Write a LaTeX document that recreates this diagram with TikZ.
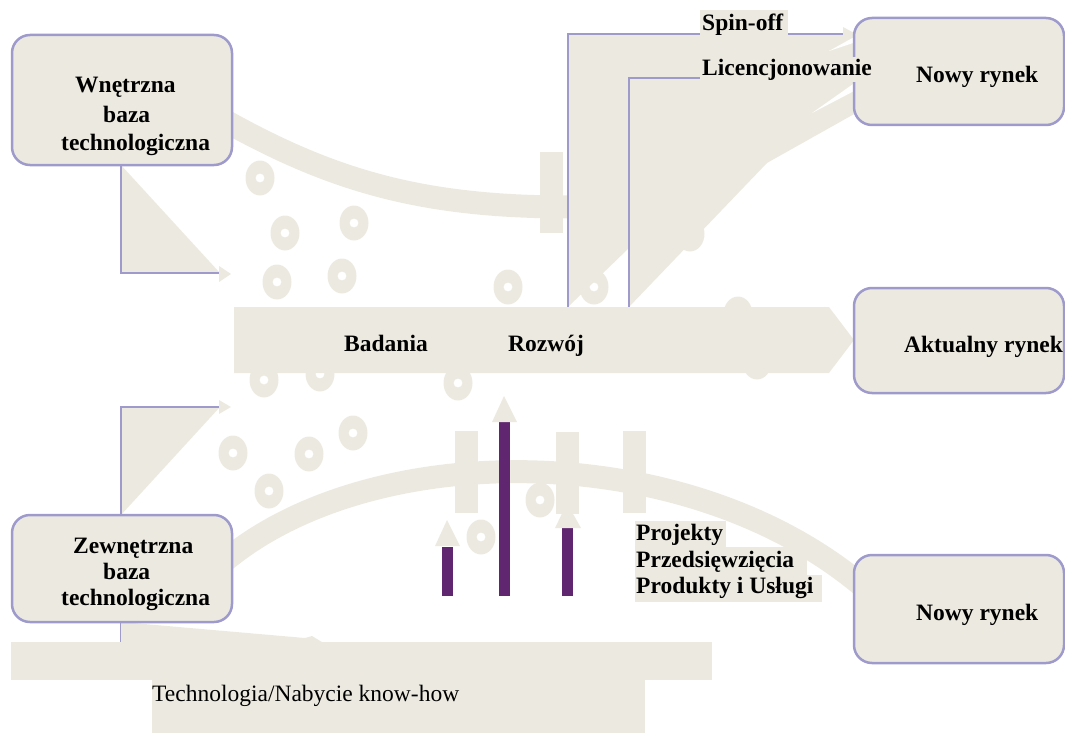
\documentclass[tikz,border=0pt]{standalone}
\usepackage{fontspec}
\setmainfont{Liberation Serif}
\definecolor{bg}{RGB}{236,234,224}
\definecolor{edge}{RGB}{158,155,204}
\definecolor{bar}{RGB}{96,38,112}

\begin{document}
\begin{tikzpicture}[x=1pt,y=-1pt,
  box/.style={draw=edge, line width=2.5pt, fill=bg, rounded corners=18pt, inner sep=0pt},
  lbl/.style={font=\fontsize{23.5}{28}\selectfont\bfseries, anchor=base west, inner sep=0pt},
  plain/.style={font=\fontsize{23.5}{28}\selectfont, anchor=base west, inner sep=0pt},
  guide/.style={draw=edge, line width=1.3pt},
  band/.style={draw=bg, line width=23pt},
  donut/.pic={\fill[bg, even odd rule] (0,0) ellipse [x radius=14.5pt, y radius=17.5pt] (0,0) circle [radius=4.5pt];}
]
\useasboundingbox (0,0) rectangle (1065,733);

% scattered rings
\foreach \p in {(260,178),(285,233),(354,223),(277,282),(342,276),(508,287),(594,287),(690,234),
                (264,380),(320,374),(458,383),(233,453),(309,454),(353,433),(269,491),
                (540,500),(481,537),(738,314),(757,362)}
  \pic at \p {donut};

% upper band ending in a stop bar
\draw[band] (220,118) .. controls (330,180) and (420,207) .. (568,207);
\fill[bg] (540,152) rectangle (563,233);

% lower band with three stop bars
\draw[band] (212,570.5) -- (232,555) .. controls (380,440) and (680,440) .. (855,580) -- ++(20,16);
\fill[bg] (455,431) rectangle (478,513);
\fill[bg] (556,432) rectangle (579,514);
\fill[bg] (623,431) rectangle (646,513);

% elbow arrows from the two technology bases
\fill[bg] (121,165) -- (220,273) -- (121,273) -- cycle;
\fill[bg] (219,266) -- (231,274) -- (219,282) -- cycle;
\draw[guide] (121,165) -- (121,273) -- (219,273);
\fill[bg] (121,515) -- (220,407) -- (121,407) -- cycle;
\fill[bg] (219,400) -- (231,407) -- (219,414) -- cycle;
\draw[guide] (121,515) -- (121,407) -- (219,407);

% main research and development arrow
\fill[bg] (234,307) -- (829,307) -- (854,340) -- (829,373) -- (234,373) -- cycle;
\node[lbl] (bad) at (344,351) {Badania};
\node[lbl] (roz) at (508,351) {Rozwój};

% spin-off and licensing branches
\fill[bg] (568,307) -- (568,34) -- (843,34) -- (843,27) -- (856,34) -- (856,113)
  -- (767,163) -- (629,307) -- (629,248) -- cycle;
\fill[white] (829,51) -- (856,36) -- (856,42) -- cycle;
\fill[white] (812,113) -- (856,82) -- (856,90) -- cycle;
\draw[guide] (568,307) -- (568,34) -- (843,34);
\draw[guide] (629,307) -- (629,78) -- (700,78);

% project bars
\fill[bar] (442,547) rectangle (453,596);
\fill[bar] (499,422) rectangle (510,596);
\fill[bar] (562,528) rectangle (573,596);
\fill[bg] (435,546) -- (460,546) -- (447,520) -- cycle;
\fill[bg] (492,422) -- (517,422) -- (504,396) -- cycle;
\fill[bg] (555,528) -- (581,528) -- (567,503) -- cycle;

% technology acquisition arrow
\draw[guide] (121,622) -- (121,642);
\fill[bg] (121,622) -- (305,638) -- (312,636) -- (322,642) -- (121,642) -- cycle;
\fill[bg] (11,642) rectangle (712,680);
\fill[bg] (152,680) rectangle (645,733);
\node[plain] (tech) at (152,701) {Technologia/Nabycie know-how};

% boxes
\node[box, minimum width=220pt, minimum height=130pt] (wb) at (122,100) {};
\node[box, minimum width=220pt, minimum height=107pt] (zb) at (122,568.5) {};
\node[box, minimum width=210pt, minimum height=107pt] (nr1) at (959,71.5) {};
\node[box, minimum width=210pt, minimum height=105pt] (ar) at (959,340.5) {};
\node[box, minimum width=210pt, minimum height=108pt] (nr2) at (959,609) {};

\node[lbl] (wb1) at (75,93) {Wnętrzna};
\node[lbl] (wb2) at (103,123) {baza};
\node[lbl] (wb3) at (61,150) {technologiczna};
\node[lbl] (zb1) at (73,553) {Zewnętrzna};
\node[lbl] (zb2) at (103,579) {baza};
\node[lbl] (zb3) at (61,605) {technologiczna};
\node[lbl] (nr1t) at (916,83) {Nowy rynek};
\node[lbl] (art) at (904,352) {Aktualny rynek};
\node[lbl] (nr2t) at (916,620) {Nowy rynek};

% branch labels
\fill[bg] (700,10) rectangle (788,36);
\node[lbl] (spin) at (702,31) {Spin-off};
\fill[bg] (700,57) rectangle (874,82);
\node[lbl] (lic) at (702,76) {Licencjonowanie};

% outcome labels
\fill[bg] (635,521) rectangle (726,547);
\fill[bg] (635,547) rectangle (807,575);
\fill[bg] (635,575) rectangle (822,602);
\node[lbl] (pr1) at (636,540) {Projekty};
\node[lbl] (pr2) at (636,567) {Przedsięwzięcia};
\node[lbl] (pr3) at (636,593) {Produkty i Usługi};
\end{tikzpicture}
\end{document}
